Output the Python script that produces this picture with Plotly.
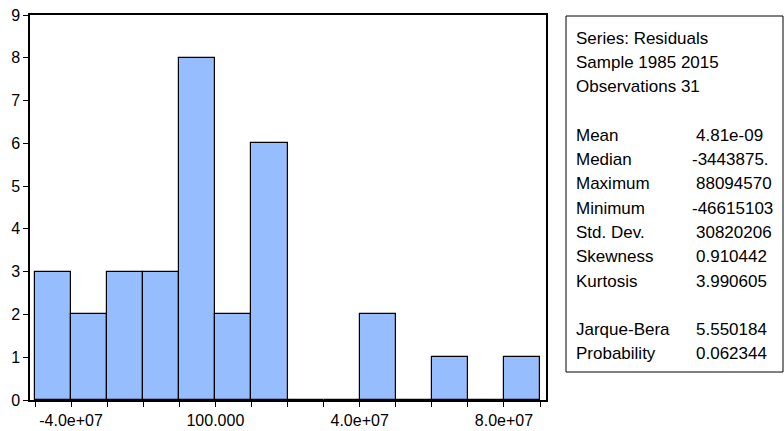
import plotly.graph_objects as go

# ---- data ----
bin_start = -5.0e7
bin_width = 1.0e7
counts = [3, 2, 3, 3, 8, 2, 6, 0, 0, 2, 0, 1, 0, 1]

tick_values = [-5e7, -4e7, -3e7, -2e7, -1e7, 0, 1e7, 2e7, 3e7, 4e7, 5e7, 6e7, 7e7, 8e7, 9e7]
tick_labels = ["", "-4.0e+07", "", "", "", "100.000", "", "", "", "4.0e+07", "", "", "", "8.0e+07", ""]

header_lines = ["Series: Residuals", "Sample 1985 2015", "Observations 31"]
stat_names = ["Mean", "Median", "Maximum", "Minimum", "Std. Dev.", "Skewness", "Kurtosis",
              None, "Jarque-Bera", "Probability"]
stat_values = ["4.81e-09", "-3443875.", "88094570", "-46615103", "30820206", "0.910442", "3.990605",
               None, "5.550184", "0.062344"]

W, H = 784, 431
FONT = "Liberation Sans, Arial, sans-serif"
BAR_COLOR = "#96BEFF"

centers = [bin_start + bin_width * (i + 0.5) for i in range(len(counts))]

fig = go.Figure()
fig.add_trace(go.Bar(
    x=centers, y=counts, width=bin_width,
    marker=dict(color=BAR_COLOR, line=dict(color="black", width=1.2)),
    hoverinfo="x+y", showlegend=False,
))

fig.update_layout(
    width=W, height=H,
    margin=dict(l=0, r=0, t=0, b=0),
    paper_bgcolor="white", plot_bgcolor="white",
    font=dict(family=FONT, size=16, color="black"),
    bargap=0,
    xaxis=dict(
        domain=[30 / W, 546 / W],
        range=[-5.1385e7, 9.166e7],
        tickvals=tick_values, ticktext=tick_labels,
        ticks="outside", ticklen=5, tickwidth=1, tickcolor="black",
        showline=True, linecolor="black", linewidth=1.5, mirror=True,
        showgrid=False, zeroline=False, automargin=False,
        tickfont=dict(family=FONT, size=16),
    ),
    yaxis=dict(
        domain=[1 - 400 / H, 1 - 15 / H],
        range=[0, 9],
        tickvals=list(range(10)),
        ticks="outside", ticklen=5, tickwidth=1, tickcolor="black",
        showline=True, linecolor="black", linewidth=1.5, mirror=True,
        showgrid=False, zeroline=False, automargin=False,
        tickfont=dict(family=FONT, size=16),
    ),
)

# stats box
fig.add_shape(type="rect", xref="paper", yref="paper",
              x0=566 / W, x1=783 / W, y0=1 - 372 / H, y1=1 - 16 / H,
              line=dict(color="black", width=1), fillcolor="rgba(0,0,0,0)")

step = 24.3
base0 = 44.5
label_x = 574
value_x = 694


def add_text(txt, px, baseline, anchor="left"):
    fig.add_annotation(xref="paper", yref="paper", x=px / W, y=1 - baseline / H,
                       text=txt, showarrow=False, xanchor=anchor, yanchor="bottom",
                       font=dict(family=FONT, size=17, color="black"))


for i, t in enumerate(header_lines):
    add_text(t, label_x, base0 + i * step + 5)

for j, (n, v) in enumerate(zip(stat_names, stat_values)):
    if n is None:
        continue
    bl = base0 + (j + 4) * step + 5
    add_text(n, label_x, bl)
    vx = value_x - 4 if v.startswith("-") else value_x
    add_text(v, vx, bl)

fig.write_html("out.html")
